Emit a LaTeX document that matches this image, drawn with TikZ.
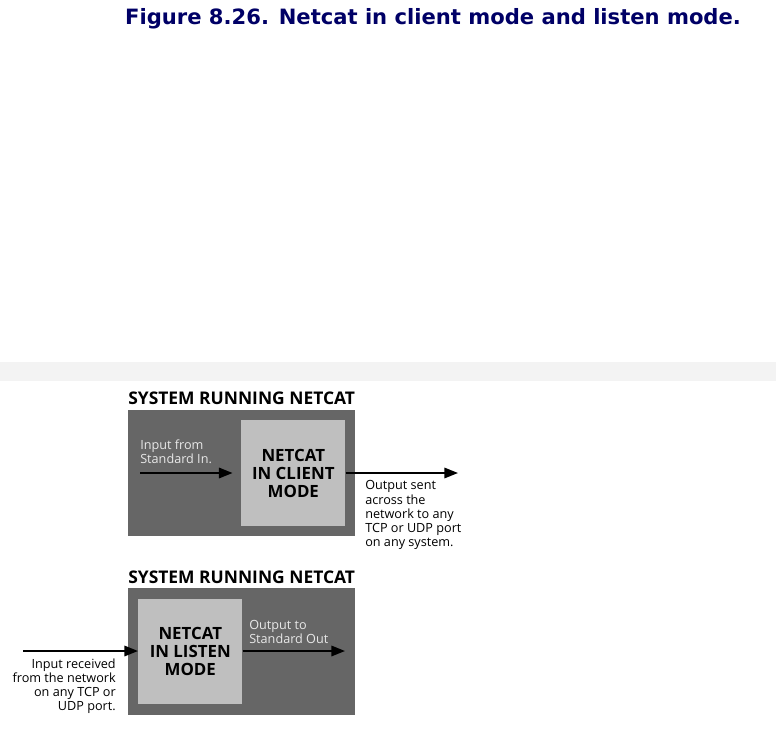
\documentclass[tikz,border=0pt]{standalone}
\usepackage{fontspec}
\setmainfont{Open Sans}
\newfontfamily\titlefont{DejaVu Sans}
\usepackage{xcolor}
\usepackage{tikz}
\usetikzlibrary{arrows.meta, positioning}

\definecolor{navytitle}{RGB}{0,0,102}
\definecolor{sysgray}{RGB}{102,102,102}
\definecolor{modegray}{RGB}{191,191,191}
\definecolor{bandgray}{RGB}{243,243,243}
\definecolor{notelight}{RGB}{232,232,232}

\tikzset{
  sysbox/.style={fill=sysgray, inner sep=0pt, minimum width=5.675cm, anchor=north west},
  modebox/.style={fill=modegray, inner sep=0pt, minimum width=2.6cm, minimum height=2.65cm,
    anchor=north west, align=center, font=\fontsize{12}{12.8}\selectfont\bfseries},
  syslabel/.style={inner sep=0pt, anchor=west, font=\fontsize{12.4}{14}\selectfont\bfseries},
  note/.style={inner sep=0pt, font=\fontsize{9}{10}\selectfont},
  flow/.style={line width=1.4pt, -{Triangle[length=3.4mm, width=2.6mm]}}
}

\begin{document}
\begin{tikzpicture}[x=0.025cm, y=-0.025cm]
    \useasboundingbox (0,0) rectangle (776,756);

    % Caption
    \node[font=\titlefont\bfseries\fontsize{15}{17}\selectfont, text=navytitle] (caption) at (433,19)
        {Figure 8.26. Netcat in client mode and listen mode.};

    % Page band
    \fill[bandgray] (0,362) rectangle (776,381);

    % Client mode system
    \node[syslabel] (labelA) at (128,398) {SYSTEM RUNNING NETCAT};
    \node[sysbox, minimum height=3.15cm] (sysA) at (128,410) {};
    \node[modebox] (clientA) at (241,420) {NETCAT\\IN CLIENT\\MODE};
    \node[note, text=notelight, anchor=west, align=left] (stdinA) at (140,452) {Input from\\Standard In.};
    \coordinate (inA) at (140,473);
    \coordinate (outA) at (458,473);
    \draw[flow, shorten >=6pt] (inA) -- (inA -| clientA.west);
    \draw[flow] (clientA.east |- outA) -- (outA);
    \node[note, anchor=west, align=left] (netA) at (365,515)
        {Output sent\\across the\\network to any\\TCP or UDP port\\on any system.};

    % Listen mode system
    \node[syslabel] (labelB) at (128,577) {SYSTEM RUNNING NETCAT};
    \node[sysbox, minimum height=3.175cm] (sysB) at (128,588) {};
    \node[modebox, minimum height=2.625cm] (listenB) at (138,599) {NETCAT\\IN LISTEN\\MODE};
    \coordinate (inB) at (23,651);
    \coordinate (outB) at (345,651);
    \draw[flow] (inB) -- (inB -| listenB.west);
    \draw[flow] (listenB.east |- outB) -- (outB);
    \node[note, text=notelight, anchor=west, align=left] (stdoutB) at (249,632) {Output to\\Standard Out};
    \node[note, anchor=east, align=right] (netB) at (116,686)
        {Input received\\from the network\\on any TCP or\\UDP port.};
\end{tikzpicture}
\end{document}
